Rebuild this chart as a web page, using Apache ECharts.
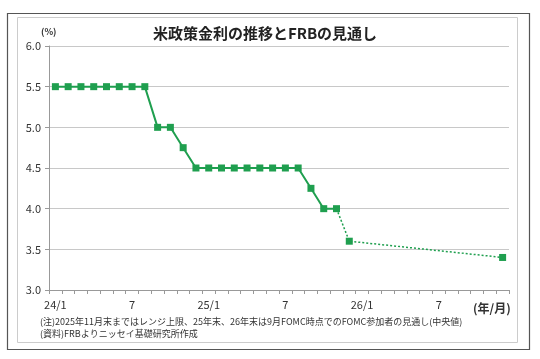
<!DOCTYPE html>
<html><head><meta charset="utf-8">
<script src="https://cdn.jsdelivr.net/npm/echarts@6/dist/echarts.min.js"></script>
<style>html,body{margin:0;padding:0;background:#fff;}#c{width:540px;height:359px;}</style>
</head><body><div id="c"></div>
<script>
const startYear = 2024;
const monthCount = 36;
const categories = [];
for (let i = 0; i < monthCount; i++) { categories.push((startYear + Math.floor(i/12)) + '/' + (i%12 + 1)); }
// actual (upper bound of range), 2024/1 .. 2025/11
const actualValues = [5.5,5.5,5.5,5.5,5.5,5.5,5.5,5.5,5.0,5.0,4.75,4.5,4.5,4.5,4.5,4.5,4.5,4.5,4.5,4.5,4.25,4.0,4.0];
// FOMC projections (median): from 2025/11 anchor, 2025/12, 2026/12
const projection = [['2025/11',4.0],['2025/12',3.6],['2026/12',3.4]];
const yTicks = [3.0,3.5,4.0,4.5,5.0,5.5,6.0];
const titleText = '米政策金利の推移とFRBの見通し';
const note1 = '(注)2025年11月末まではレンジ上限、25年末、26年末は9月FOMC時点でのFOMC参加者の見通し(中央値)';
const note2 = '(資料)FRBよりニッセイ基礎研究所作成';

const green = '#1f9f4f';
const projData = categories.map(c => { const p = projection.find(q => q[0] === c); return p ? p[1] : null; });
const projSeriesData = projData.map((v, i) => v === null ? null : {value: v, symbol: categories[i] === '2025/11' ? 'none' : 'rect'});

const chart = echarts.init(document.getElementById('c'), null, {renderer: 'canvas'});
const font = '"Noto Sans CJK JP", sans-serif';
chart.setOption({
  animation: false,
  textStyle: {fontFamily: font},
  graphic: [
    {type: 'rect', shape: {x: 7.5, y: 13.5, width: 522, height: 336}, style: {fill: 'none', stroke: '#555', lineWidth: 1.2}},
    {type: 'rect', shape: {x: 17.5, y: 17.5, width: 500, height: 325}, style: {fill: 'none', stroke: '#ccc', lineWidth: 1}},
    {type: 'text', left: 40, top: 317, style: {text: note1, font: '9px ' + font, fill: '#333'}},
    {type: 'text', left: 40, top: 329, style: {text: note2, font: '9px ' + font, fill: '#333'}},
    {type: 'text', left: 473, top: 302, style: {text: '(年/月)', font: 'bold 12px ' + font, fill: '#333'}},
    {type: 'text', left: 41, top: 27, style: {text: '(%)', font: 'bold 9px ' + font, fill: '#333'}}
  ],
  title: {text: titleText, left: 260, top: 21, textAlign: 'center',
    textStyle: {fontSize: 15, fontWeight: 'bold', color: '#222', fontFamily: font}},
  grid: {left: 49, right: 31, top: 46, bottom: 69, containLabel: false},
  xAxis: {
    type: 'category', data: categories, boundaryGap: true,
    axisLine: {lineStyle: {color: '#999'}},
    axisTick: {show: true, interval: 0, length: 4, inside: false, lineStyle: {color: '#999'}},
    axisLabel: {interval: 0, color: '#333', fontSize: 11, margin: 9,
      formatter: (v, i) => { if (i % 6 !== 0) return ''; const [y, m] = v.split('/'); return m === '1' ? (y.slice(2) + '/1') : m; }},
    splitLine: {show: false}
  },
  yAxis: {
    type: 'value', min: yTicks[0], max: yTicks[yTicks.length-1], interval: 0.5,
    axisLine: {show: true, lineStyle: {color: '#999'}},
    axisTick: {show: true, length: 4, lineStyle: {color: '#999'}},
    axisLabel: {color: '#333', fontSize: 11, margin: 8, formatter: v => v.toFixed(1)},
    splitLine: {lineStyle: {color: '#c8c8c8', width: 1}}
  },
  series: [
    {type: 'line', data: actualValues, symbol: 'rect', symbolSize: 7,
      lineStyle: {color: green, width: 2}, itemStyle: {color: green}},
    {type: 'line', data: projSeriesData, connectNulls: true, symbol: 'rect', symbolSize: 7,
      lineStyle: {color: green, width: 1.5, type: [2, 2]}, itemStyle: {color: green}}
  ]
});
</script></body></html>
